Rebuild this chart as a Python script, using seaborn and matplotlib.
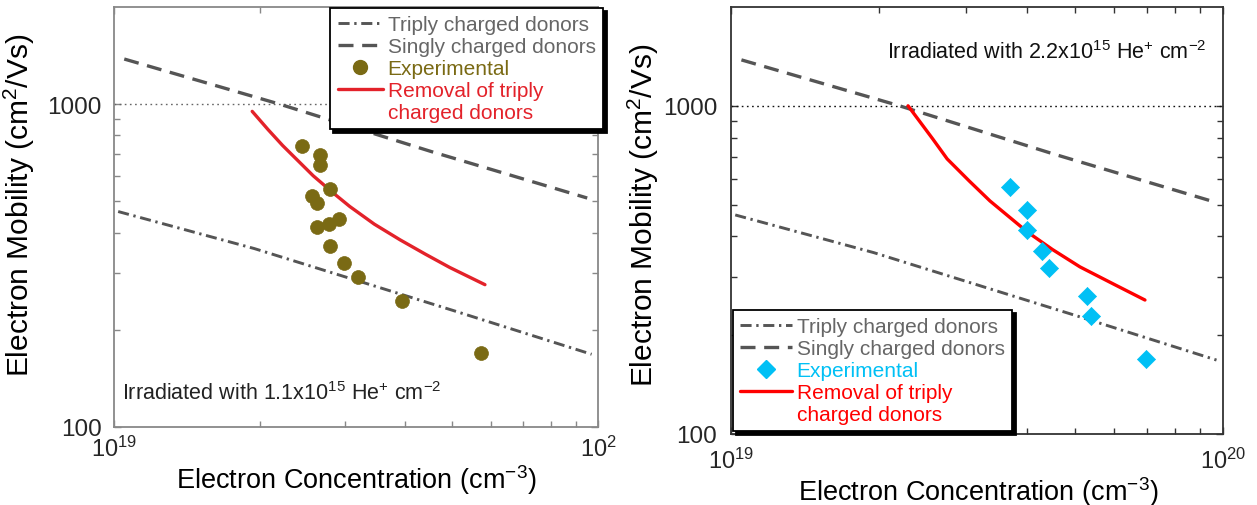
import numpy as np
import pandas as pd
import matplotlib
matplotlib.use("Agg")
import matplotlib.pyplot as plt
import seaborn as sns
from matplotlib.lines import Line2D
from matplotlib.ticker import FixedLocator, NullFormatter

# ---------------- data ----------------
singly_x = [1.05e19, 2.2e19, 4.5e19, 9.5e19]
singly_y = [1380, 1000, 715, 512]

triply_x = [1.02e19, 1.95e19, 5.0e19, 9.7e19]
triply_y = [465, 357, 230, 168]

ref_x = [1.0e19, 1.0e20]
ref_y = [1000, 1000]

left_removal_x = [1.93e19, 2.08e19, 2.23e19, 2.58e19, 2.85e19, 3.07e19, 3.45e19,
                  3.90e19, 4.40e19, 4.94e19, 5.84e19]
left_removal_y = [950, 835, 745, 600, 528, 482, 425, 380, 343, 312, 276]

left_exp_x = [2.45e19, 2.67e19, 2.67e19, 2.80e19, 2.56e19, 2.63e19, 2.92e19,
              2.78e19, 2.63e19, 2.79e19, 2.99e19, 3.20e19, 3.94e19, 5.74e19]
left_exp_y = [744, 697, 648, 546, 521, 493, 440, 426, 417, 363, 322, 292, 246, 169]

right_removal_x = [2.29e19, 2.57e19, 2.75e19, 3.05e19, 3.36e19, 4.0e19, 4.5e19,
                   5.12e19, 6.0e19, 6.94e19]
right_removal_y = [1000, 793, 689, 590, 513, 413, 365, 323, 286, 256]

right_exp_x = [3.69e19, 4.0e19, 4.0e19, 4.29e19, 4.43e19, 5.28e19, 5.39e19, 6.97e19]
right_exp_y = [567, 482, 418, 361, 321, 263, 229, 169]

x_tick_vals = [1e19, 1e20]
y_tick_vals = [100, 1000]
left_xtick_labels = ["10$^{19}$", "10$^{2}$"]
right_xtick_labels = ["10$^{19}$", "10$^{20}$"]
y_tick_labels = ["100", "1000"]

legend_labels = ["Triply charged donors", "Singly charged donors", "Experimental",
                 "Removal of triply", "charged donors"]
left_note = "Irradiated with 1.1x10$^{15}$ He$^{+}$ cm$^{-2}$"
right_note = "Irradiated with 2.2x10$^{15}$ He$^{+}$ cm$^{-2}$"
xlabel = "Electron Concentration (cm$^{-3}$)"
ylabel = "Electron Mobility (cm$^{2}$/Vs)"

# ---------------- style ----------------
sns.set_theme(style="white")
plt.rcParams["font.family"] = ["Liberation Sans", "DejaVu Sans"]
plt.rcParams["mathtext.fontset"] = "custom"
plt.rcParams["mathtext.rm"] = "Liberation Sans"
plt.rcParams["mathtext.it"] = "Liberation Sans:italic"
plt.rcParams["mathtext.bf"] = "Liberation Sans:bold"
plt.rcParams["mathtext.default"] = "regular"

GRAY = "#555555"
OLIVE = "#7a6a14"
CYAN = "#00c0f5"
DASH = (4.5, 2.6)
DASHDOT = (3.8, 1.6, 0.8, 1.6)

fig = plt.figure(figsize=(12.57, 5.06), dpi=100)
axL = fig.add_axes([114 / 1257, 1 - 428 / 506, 484 / 1257, 420 / 506])
axR = fig.add_axes([731 / 1257, 1 - 435 / 506, 492 / 1257, 427 / 506])


def style_axis(ax, spine_color, xlabels, xpad, ypad):
    ax.set_xscale("log")
    ax.set_yscale("log")
    ax.set_xlim(1e19, 1e20)
    ax.set_ylim(100, 2000)
    ax.xaxis.set_major_locator(FixedLocator(x_tick_vals))
    ax.yaxis.set_major_locator(FixedLocator(y_tick_vals))
    ax.xaxis.set_minor_locator(FixedLocator([k * 1e19 for k in range(2, 10)]))
    ax.yaxis.set_minor_locator(FixedLocator([k * 100 for k in range(2, 10)]))
    ax.xaxis.set_minor_formatter(NullFormatter())
    ax.yaxis.set_minor_formatter(NullFormatter())
    ax.set_xticklabels(xlabels)
    ax.set_yticklabels(y_tick_labels)
    ax.tick_params(which="both", direction="in", top=True, right=True,
                   bottom=True, left=True, color=spine_color, width=1.0)
    ax.tick_params(which="minor", length=4)
    ax.tick_params(which="major", length=5)
    ax.tick_params(axis="x", which="major", labelsize=17, pad=xpad)
    ax.tick_params(axis="y", which="major", labelsize=17.5, pad=ypad)
    for s in ax.spines.values():
        s.set_color(spine_color)
        s.set_linewidth(1.3)


exp_color = {"o": OLIVE, "D": CYAN}


def draw_panel(ax, rem_x, rem_y, exp_x, exp_y, red, marker, msize, ref_color):
    sns.lineplot(x=ref_x, y=ref_y, ax=ax, color=ref_color, lw=1.0,
                 estimator=None, sort=False, zorder=1)
    ax.lines[-1].set_linestyle((0, (1.2, 2.5)))
    sns.lineplot(x=singly_x, y=singly_y, ax=ax, color=GRAY, lw=2.4,
                 estimator=None, sort=False, zorder=2)
    ax.lines[-1].set_dashes(DASH)
    sns.lineplot(x=triply_x, y=triply_y, ax=ax, color=GRAY, lw=2.1,
                 estimator=None, sort=False, zorder=2)
    ax.lines[-1].set_dashes(DASHDOT)
    sns.lineplot(x=rem_x, y=rem_y, ax=ax, color=red, lw=2.4,
                 estimator=None, sort=False, zorder=3)
    ax.lines[-1].set_solid_joinstyle("round")
    sns.scatterplot(x=exp_x, y=exp_y, ax=ax, marker=marker, s=msize,
                    color=exp_color[marker], edgecolor=exp_color[marker],
                    linewidth=0.5, zorder=4)


draw_panel(axL, left_removal_x, left_removal_y, left_exp_x, left_exp_y,
           "#e3222a", "o", 100, "#666666")
draw_panel(axR, right_removal_x, right_removal_y, right_exp_x, right_exp_y,
           "#ff0000", "D", 85, "#111111")

style_axis(axL, "#888888", left_xtick_labels, 6, 9)
style_axis(axR, "#333333", right_xtick_labels, 10, 10)


def make_legend(ax, red, marker, color, msize, loc, anchor, hlen):
    handles = [
        Line2D([], [], color=GRAY, lw=2.1, dashes=DASHDOT),
        Line2D([], [], color=GRAY, lw=2.4, dashes=DASH),
        Line2D([], [], color=color, marker=marker, ls="none", markersize=msize),
        Line2D([], [], color=red, lw=2.4),
        Line2D([], [], ls="none"),
    ]
    leg = ax.legend(handles, legend_labels, loc=loc, bbox_to_anchor=anchor,
                    borderaxespad=0, fontsize=15, labelspacing=0.14,
                    handlelength=hlen, handletextpad=0.2, borderpad=0.35,
                    fancybox=False, framealpha=1, edgecolor="black",
                    shadow={"color": "black", "alpha": 1, "linewidth": 2})
    leg.get_frame().set_linewidth(1.3)
    cols = ["#666666", "#666666", color, red, red]
    for t, c in zip(leg.get_texts(), cols):
        t.set_color(c)
    return leg


make_legend(axL, "#e3222a", "o", OLIVE, 10, "upper right", (1.010, 0.998), 2.2)
make_legend(axR, "#ff0000", "D", CYAN, 9, "lower left", (0.004, 0.007), 2.5)

# annotations
axL.text(0.0165, 0.067, left_note, transform=axL.transAxes, fontsize=15.5,
         color="#222222", va="baseline", ha="left")
axR.text(0.317, 0.881, right_note, transform=axR.transAxes, fontsize=15.5,
         color="#111111", va="baseline", ha="left")

# axis labels
for ax, xc, yc, xlc, ylc in [(axL, 0.50, -0.083, -0.160, 0.53),
                             (axR, 0.502, -0.093, -0.143, 0.515)]:
    ax.set_xlabel(xlabel, fontsize=19.5, color="black")
    ax.set_ylabel(ylabel, fontsize=21.5, color="black")
    ax.xaxis.set_label_coords(xc, yc)
    ax.yaxis.set_label_coords(xlc, ylc)

fig.savefig("out.png", dpi=100, facecolor="white")
